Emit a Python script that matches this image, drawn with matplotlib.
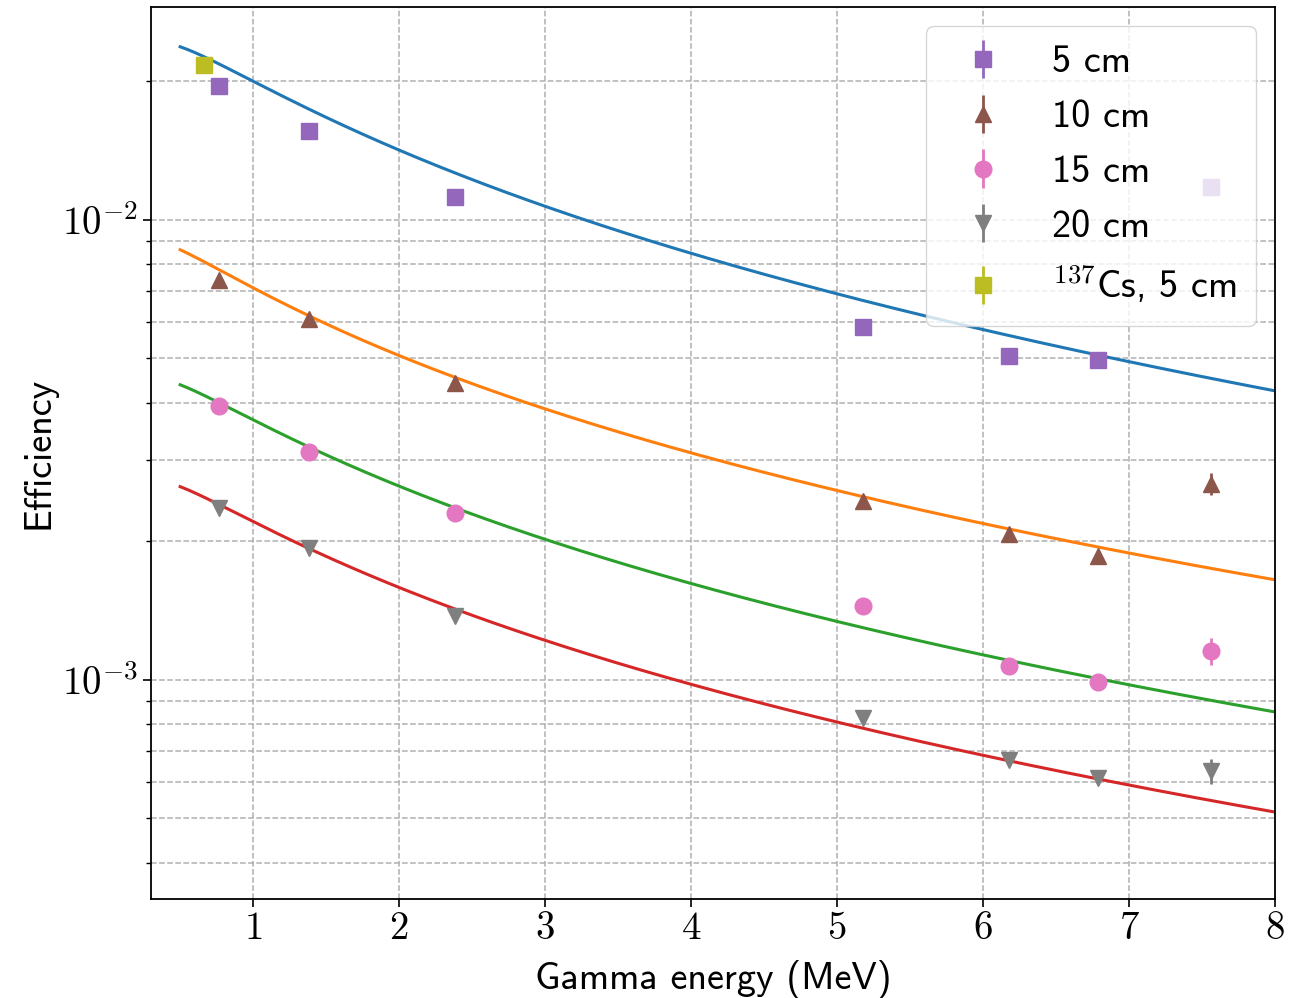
import numpy as np
import matplotlib
matplotlib.use('Agg')
import matplotlib.pyplot as plt
from matplotlib.ticker import FuncFormatter, NullFormatter, LogLocator

plt.rcParams['mathtext.fontset'] = 'cm'
plt.rcParams['font.family'] = ['cmss10', 'DejaVu Sans']
plt.rcParams['axes.formatter.use_mathtext'] = True

energy = [0.766, 1.38, 2.38, 5.18, 6.18, 6.79, 7.56]
eff_5cm = [0.01955, 0.01561, 0.01122, 0.00585, 0.00506, 0.00496, 0.01180]
eff_10cm = [0.00741, 0.00609, 0.00442, 0.00245, 0.00207, 0.00186, 0.00267]
eff_15cm = [0.00394, 0.00313, 0.00230, 0.00145, 0.00107, 0.00099, 0.001156]
eff_20cm = [0.002366, 0.00193, 0.001378, 0.000826, 0.00067, 0.000612, 0.000634]
err_5cm = [0.0003, 0.0002, 0.00015, 0.00008, 0.00007, 0.00007, 0.0004]
err_10cm = [0.0001, 0.00008, 0.00006, 0.00004, 0.00003, 0.00003, 0.00015]
err_15cm = [0.00005, 0.00004, 0.00003, 0.00002, 0.00002, 0.00002, 0.00008]
err_20cm = [0.00003, 0.00003, 0.00002, 0.000015, 0.000012, 0.00001, 0.00004]

cs_energy = [0.662]
cs_eff = [0.0217]
cs_err = [0.0004]

labels = ['5 cm', '10 cm', '15 cm', '20 cm']

# fit curves: log10(eff) = a + b*log10(E) + c*log10(E)**2
fit_a = [-1.699, -2.148, -2.435, -2.656]
fit_b = [-0.373, -0.382, -0.366, -0.364]
fit_c = [-0.412, -0.355, -0.373, -0.371]

fig, ax = plt.subplots(figsize=(13.07, 9.98), dpi=100)
fig.subplots_adjust(left=0.1155, right=0.9755, top=0.993, bottom=0.0992)

E = np.linspace(0.5, 8, 300)
u = np.log10(E)
for a, b, c, col in zip(fit_a, fit_b, fit_c, ['C0', 'C1', 'C2', 'C3']):
    ax.plot(E, 10 ** (a + b * u + c * u ** 2), color=col, lw=2.2)

effs = [eff_5cm, eff_10cm, eff_15cm, eff_20cm]
errs = [err_5cm, err_10cm, err_15cm, err_20cm]
markers = ['s', '^', 'o', 'v']
colors = ['C4', 'C5', 'C6', 'C7']
for eff, err, m, col, lab in zip(effs, errs, markers, colors, labels):
    ax.errorbar(energy, eff, yerr=err, fmt=m, color=col, ms=12,
                elinewidth=2, label=lab)
ax.errorbar(cs_energy, cs_eff, yerr=cs_err, fmt='s', color='C8', ms=12,
            elinewidth=2, label=r'$^{137}$Cs, 5 cm')

ax.set_yscale('log')
ax.set_xlim(0.3, 8.0)
ax.set_ylim(3.34e-4, 0.029)
ax.set_xticks(range(1, 9))
ax.xaxis.set_major_formatter(FuncFormatter(lambda x, p: f'${x:g}$'))
ax.yaxis.set_major_locator(LogLocator(base=10))
ax.yaxis.set_major_formatter(
    FuncFormatter(lambda y, p: '$10^{%d}$' % round(np.log10(y))))
ax.yaxis.set_minor_formatter(NullFormatter())
ax.tick_params(labelsize=28, length=6, width=1.2)
ax.tick_params(which='minor', length=3.5, width=1)
for s in ax.spines.values():
    s.set_linewidth(1.3)

ax.set_xlabel('Gamma energy (MeV)', fontsize=27.5, labelpad=9)
ax.set_ylabel('Efficiency', fontsize=27.5)
ax.grid(True, which='both', ls='--', color='#b0b0b0', lw=1.1)
ax.legend(fontsize=27.5, loc='upper right', borderpad=0.5,
          labelspacing=0.52)

fig.savefig('out.png')
